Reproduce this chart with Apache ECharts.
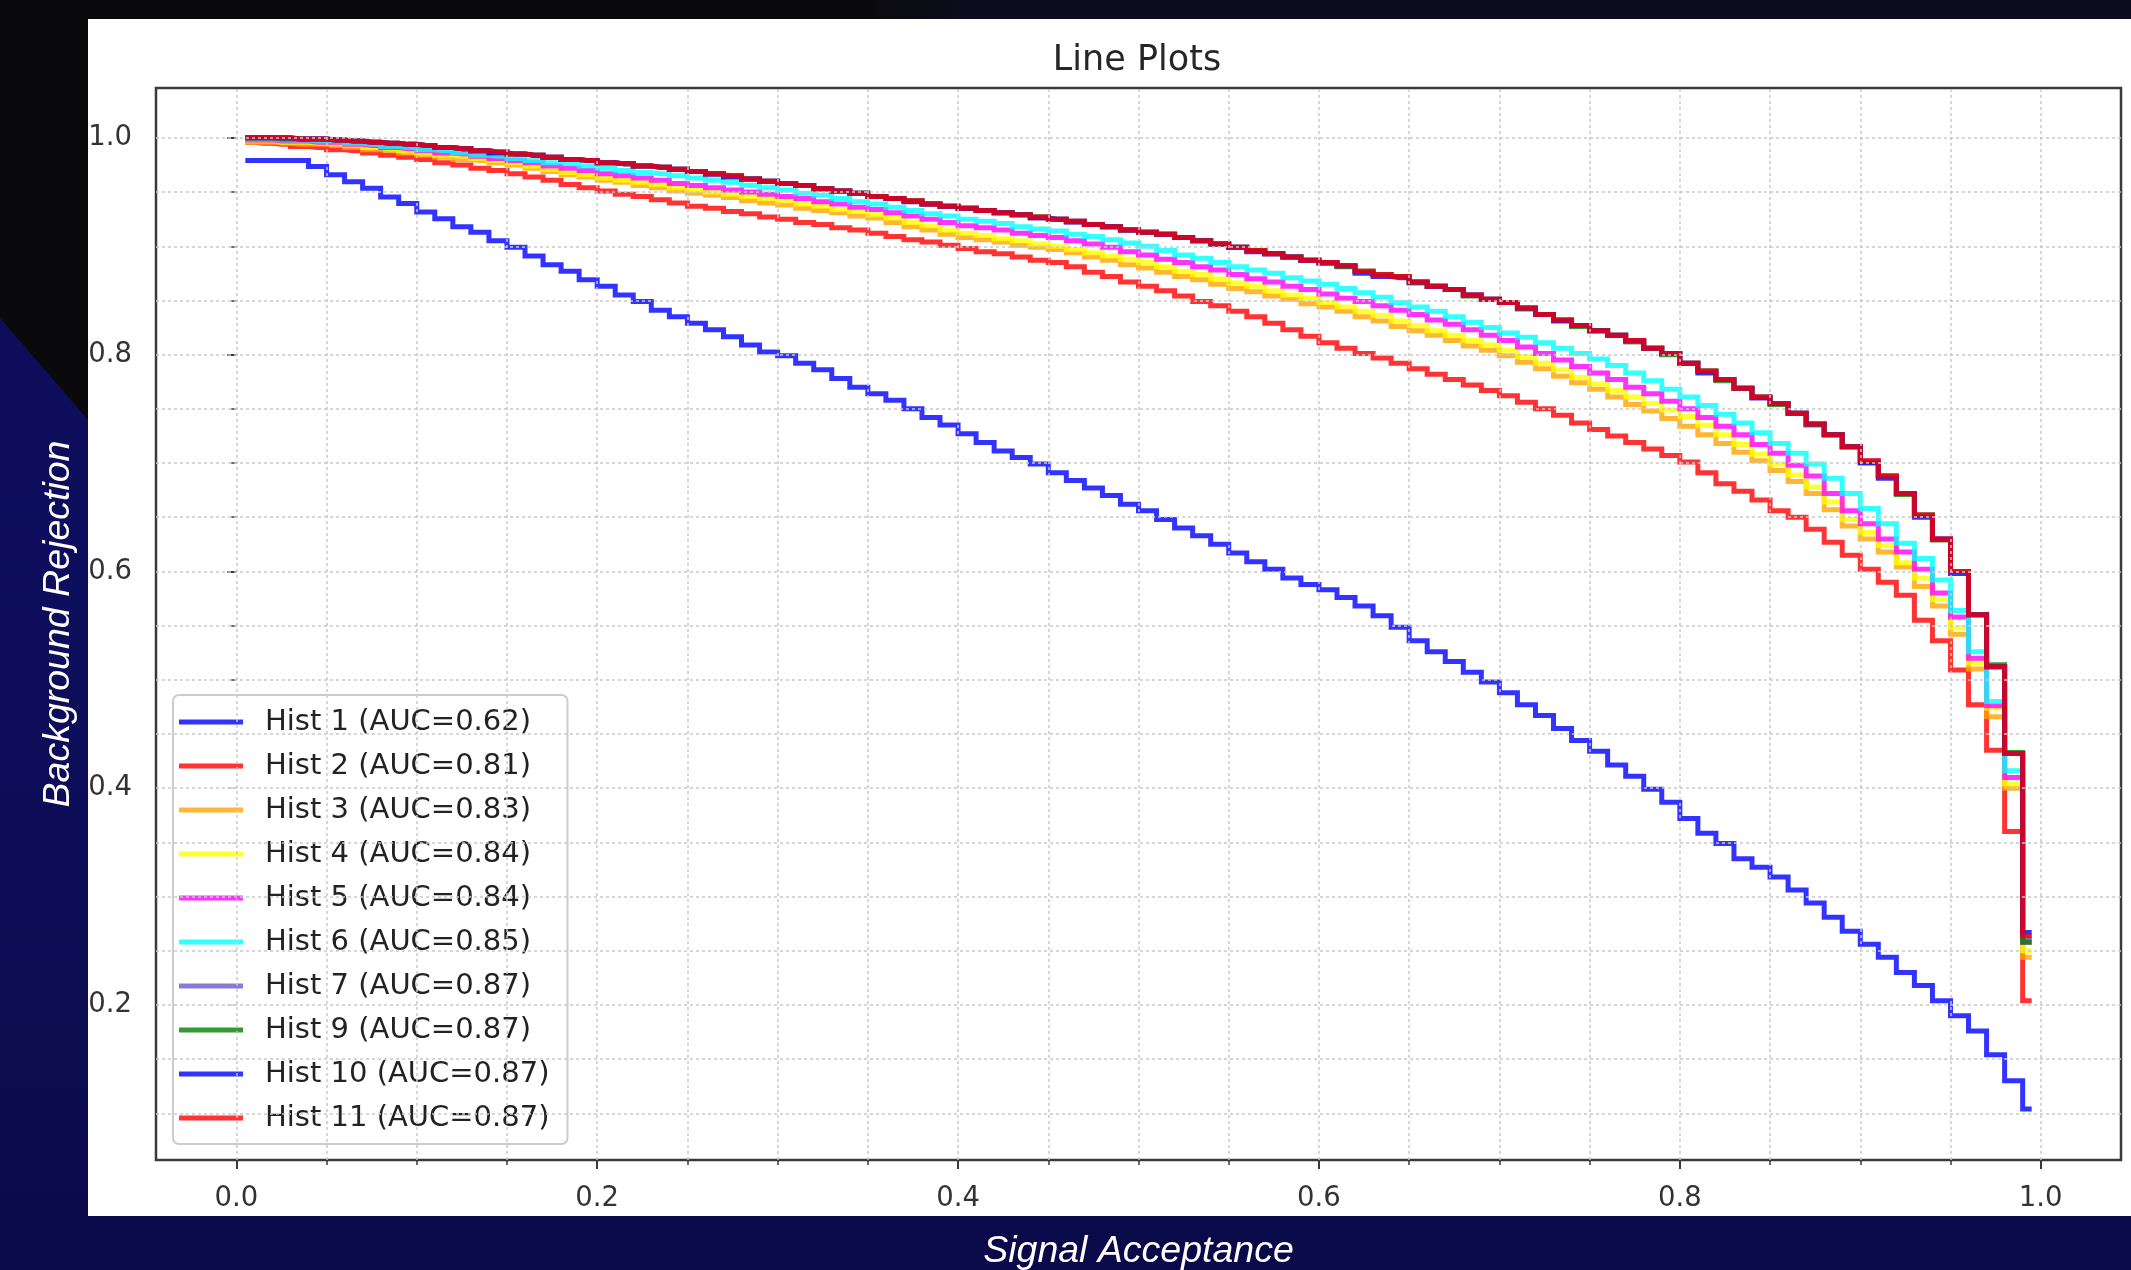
<!DOCTYPE html>
<html>
<head>
<meta charset="utf-8">
<script src="https://cdn.jsdelivr.net/npm/echarts/dist/echarts.min.js"></script>
<style>
html,body{margin:0;padding:0;width:2131px;height:1270px;overflow:hidden;background:linear-gradient(180deg,#0c0c56 0%,#0e0e5e 45%,#0a0a4a 100%);}
#bgTop{position:absolute;left:0;top:0;width:2131px;height:1270px;background:linear-gradient(90deg,#0a0a0c 0px,#0a0a0c 860px,#0c0c1c 960px,#0c0c1c 2131px);clip-path:polygon(0 0,2131px 0,2131px 19px,88px 19px,88px 420px,0 318px);}
#panel{position:absolute;left:88px;top:19px;width:2043px;height:1197px;background:#ffffff;}
#chart{position:absolute;left:0;top:0;width:2131px;height:1270px;}
</style>
</head>
<body>
<div id="bgTop"></div>
<div id="panel"></div>
<div id="chart"></div>
<script>
// ---------- data ----------
const X_CENTERS = [
 0.005,0.015,0.025,0.035,0.045,0.055,0.065,0.075,0.085,0.095,
 0.105,0.115,0.125,0.135,0.145,0.155,0.165,0.175,0.185,0.195,
 0.205,0.215,0.225,0.235,0.245,0.255,0.265,0.275,0.285,0.295,
 0.305,0.315,0.325,0.335,0.345,0.355,0.365,0.375,0.385,0.395,
 0.405,0.415,0.425,0.435,0.445,0.455,0.465,0.475,0.485,0.495,
 0.505,0.515,0.525,0.535,0.545,0.555,0.565,0.575,0.585,0.595,
 0.605,0.615,0.625,0.635,0.645,0.655,0.665,0.675,0.685,0.695,
 0.705,0.715,0.725,0.735,0.745,0.755,0.765,0.775,0.785,0.795,
 0.805,0.815,0.825,0.835,0.845,0.855,0.865,0.875,0.885,0.895,
 0.905,0.915,0.925,0.935,0.945,0.955,0.965,0.975,0.985,0.995];

const HIST_NAMES = ['Hist 1','Hist 2','Hist 3','Hist 4','Hist 5','Hist 6','Hist 7','Hist 9','Hist 10','Hist 11'];
const AUC = ['0.62','0.81','0.83','0.84','0.84','0.85','0.87','0.87','0.87','0.87'];
const COLORS = ['rgba(0,0,255,0.8)','rgba(255,0,0,0.8)','rgba(255,165,0,0.8)','rgba(255,255,0,0.8)',
  'rgba(255,0,255,0.8)','rgba(0,255,255,0.8)','rgba(106,90,205,0.8)','rgba(0,128,0,0.8)',
  'rgba(0,0,255,0.8)','rgba(255,0,0,0.8)'];

const HIST1 = [
 0.979,0.979,0.979,0.979,0.9735,0.966,0.9595,0.9534,0.9455,0.9394,
 0.9316,0.9254,0.918,0.913,0.905,0.899,0.891,0.883,0.877,0.869,
 0.863,0.855,0.849,0.841,0.835,0.829,0.823,0.8165,0.809,0.8025,
 0.799,0.792,0.786,0.778,0.770,0.764,0.758,0.750,0.742,0.735,
 0.727,0.719,0.711,0.705,0.699,0.691,0.684,0.677,0.670,0.662,
 0.656,0.648,0.640,0.633,0.625,0.617,0.609,0.602,0.594,0.588,
 0.583,0.576,0.568,0.559,0.5485,0.536,0.526,0.517,0.507,0.498,
 0.488,0.477,0.467,0.455,0.444,0.434,0.4215,0.411,0.399,0.387,
 0.372,0.3585,0.349,0.335,0.327,0.318,0.306,0.294,0.281,0.268,
 0.256,0.244,0.230,0.218,0.204,0.190,0.176,0.154,0.130,0.104];

const HIST2 = [
 0.996,0.995,0.994,0.992,0.991,0.989,0.988,0.986,0.984,0.982,
 0.980,0.977,0.975,0.972,0.970,0.967,0.964,0.961,0.957,0.954,
 0.951,0.948,0.946,0.943,0.940,0.937,0.935,0.932,0.930,0.927,
 0.925,0.922,0.920,0.917,0.915,0.912,0.909,0.906,0.904,0.901,
 0.898,0.895,0.893,0.890,0.887,0.885,0.881,0.876,0.872,0.867,
 0.863,0.859,0.854,0.849,0.845,0.840,0.835,0.829,0.823,0.817,
 0.811,0.806,0.801,0.797,0.792,0.787,0.782,0.777,0.772,0.767,
 0.762,0.756,0.750,0.744,0.737,0.731,0.725,0.719,0.713,0.707,
 0.701,0.691,0.681,0.674,0.666,0.656,0.650,0.639,0.627,0.615,
 0.602,0.590,0.578,0.555,0.536,0.509,0.477,0.435,0.360,0.204];

const HIST3 = [
 0.996,0.996,0.995,0.994,0.994,0.993,0.991,0.989,0.988,0.986,
 0.984,0.982,0.980,0.979,0.977,0.975,0.972,0.969,0.966,0.964,
 0.961,0.959,0.956,0.954,0.951,0.949,0.947,0.945,0.942,0.940,
 0.938,0.935,0.933,0.931,0.928,0.926,0.922,0.918,0.915,0.911,
 0.908,0.906,0.904,0.901,0.899,0.897,0.894,0.890,0.887,0.883,
 0.880,0.876,0.872,0.869,0.865,0.861,0.858,0.854,0.851,0.847,
 0.844,0.840,0.835,0.831,0.826,0.822,0.818,0.813,0.808,0.804,
 0.799,0.793,0.787,0.780,0.774,0.768,0.761,0.754,0.748,0.741,
 0.734,0.726,0.718,0.710,0.702,0.693,0.683,0.672,0.657,0.642,
 0.630,0.618,0.604,0.586,0.568,0.542,0.510,0.466,0.400,0.244];

const HIST4 = [
 0.997,0.997,0.996,0.996,0.995,0.995,0.993,0.991,0.990,0.988,
 0.986,0.984,0.983,0.981,0.979,0.977,0.974,0.971,0.968,0.966,
 0.963,0.961,0.959,0.957,0.954,0.952,0.950,0.948,0.946,0.944,
 0.942,0.939,0.937,0.934,0.932,0.929,0.926,0.922,0.919,0.915,
 0.912,0.910,0.907,0.905,0.902,0.900,0.897,0.894,0.891,0.888,
 0.885,0.881,0.877,0.874,0.870,0.866,0.863,0.859,0.855,0.852,
 0.848,0.844,0.840,0.836,0.831,0.827,0.822,0.818,0.813,0.809,
 0.804,0.798,0.792,0.786,0.779,0.773,0.767,0.761,0.755,0.749,
 0.743,0.735,0.726,0.717,0.708,0.699,0.689,0.678,0.664,0.648,
 0.636,0.624,0.608,0.594,0.574,0.548,0.516,0.474,0.404,0.250];

const HIST5 = [
 0.998,0.998,0.997,0.997,0.996,0.996,0.994,0.993,0.991,0.990,
 0.988,0.986,0.985,0.983,0.981,0.979,0.977,0.974,0.972,0.970,
 0.967,0.965,0.963,0.961,0.958,0.956,0.954,0.952,0.950,0.948,
 0.946,0.944,0.941,0.939,0.936,0.934,0.931,0.928,0.925,0.922,
 0.919,0.917,0.915,0.912,0.910,0.908,0.905,0.902,0.899,0.895,
 0.892,0.888,0.885,0.881,0.878,0.874,0.870,0.867,0.863,0.860,
 0.856,0.852,0.849,0.845,0.841,0.837,0.832,0.828,0.823,0.818,
 0.813,0.807,0.801,0.795,0.789,0.783,0.777,0.770,0.764,0.757,
 0.750,0.742,0.734,0.726,0.717,0.709,0.698,0.688,0.672,0.656,
 0.644,0.630,0.618,0.602,0.580,0.558,0.520,0.476,0.410,0.258];

const HIST6 = [
 0.999,0.999,0.998,0.998,0.997,0.997,0.995,0.994,0.992,0.991,
 0.989,0.988,0.986,0.984,0.983,0.981,0.979,0.977,0.976,0.974,
 0.972,0.970,0.968,0.967,0.965,0.963,0.961,0.959,0.956,0.954,
 0.952,0.949,0.947,0.944,0.941,0.939,0.936,0.933,0.930,0.928,
 0.925,0.923,0.921,0.918,0.916,0.914,0.911,0.909,0.906,0.903,
 0.900,0.896,0.892,0.889,0.885,0.881,0.878,0.875,0.871,0.868,
 0.865,0.861,0.857,0.853,0.848,0.844,0.840,0.835,0.830,0.825,
 0.820,0.816,0.811,0.806,0.801,0.796,0.790,0.783,0.776,0.768,
 0.761,0.753,0.745,0.737,0.728,0.718,0.709,0.699,0.686,0.672,
 0.658,0.644,0.626,0.612,0.592,0.564,0.526,0.480,0.416,0.262];

const HIST7 = [
 1.000,1.000,1.000,0.999,0.999,0.998,0.997,0.996,0.995,0.994,
 0.993,0.991,0.990,0.988,0.987,0.985,0.984,0.982,0.980,0.979,
 0.977,0.976,0.974,0.973,0.971,0.969,0.966,0.965,0.962,0.960,
 0.958,0.956,0.953,0.951,0.949,0.946,0.944,0.942,0.939,0.937,
 0.935,0.933,0.931,0.929,0.927,0.925,0.922,0.920,0.918,0.915,
 0.913,0.911,0.908,0.905,0.902,0.899,0.896,0.893,0.890,0.887,
 0.885,0.882,0.877,0.874,0.872,0.867,0.863,0.860,0.855,0.851,
 0.848,0.843,0.837,0.832,0.827,0.822,0.818,0.812,0.806,0.801,
 0.792,0.785,0.777,0.769,0.761,0.755,0.746,0.736,0.726,0.715,
 0.702,0.688,0.672,0.652,0.630,0.600,0.560,0.512,0.432,0.262];

const HIST9 = [
 1.000,1.000,0.999,0.999,0.999,0.998,0.997,0.996,0.995,0.994,
 0.993,0.991,0.990,0.988,0.987,0.985,0.984,0.982,0.980,0.979,
 0.977,0.976,0.974,0.973,0.971,0.969,0.967,0.965,0.962,0.960,
 0.958,0.956,0.953,0.951,0.949,0.946,0.944,0.942,0.939,0.937,
 0.935,0.933,0.931,0.929,0.927,0.925,0.923,0.920,0.918,0.915,
 0.913,0.911,0.908,0.905,0.902,0.899,0.896,0.893,0.890,0.887,
 0.884,0.881,0.877,0.874,0.872,0.866,0.863,0.860,0.854,0.851,
 0.848,0.842,0.837,0.832,0.826,0.822,0.818,0.812,0.806,0.800,
 0.792,0.785,0.776,0.769,0.761,0.754,0.746,0.735,0.726,0.715,
 0.701,0.688,0.671,0.652,0.629,0.600,0.560,0.514,0.433,0.258];

const HIST10 = [
 1.000,1.000,1.000,0.999,0.999,0.998,0.997,0.996,0.995,0.994,
 0.993,0.991,0.990,0.988,0.986,0.985,0.984,0.982,0.980,0.979,
 0.977,0.976,0.974,0.973,0.971,0.969,0.967,0.964,0.962,0.960,
 0.958,0.956,0.953,0.951,0.949,0.946,0.944,0.941,0.939,0.937,
 0.935,0.933,0.931,0.929,0.926,0.925,0.923,0.920,0.918,0.915,
 0.913,0.911,0.908,0.905,0.902,0.899,0.895,0.893,0.890,0.887,
 0.885,0.882,0.875,0.872,0.871,0.867,0.863,0.860,0.855,0.851,
 0.848,0.843,0.837,0.831,0.827,0.822,0.818,0.813,0.806,0.801,
 0.792,0.783,0.777,0.769,0.760,0.755,0.746,0.736,0.726,0.715,
 0.700,0.686,0.672,0.650,0.630,0.598,0.560,0.512,0.432,0.267];

const HIST11 = [
 1.000,1.000,1.000,0.999,0.999,0.998,0.997,0.996,0.995,0.994,
 0.993,0.991,0.990,0.988,0.987,0.985,0.984,0.982,0.980,0.979,
 0.977,0.976,0.974,0.973,0.971,0.969,0.967,0.965,0.962,0.960,
 0.958,0.956,0.953,0.951,0.949,0.946,0.944,0.942,0.939,0.937,
 0.935,0.933,0.931,0.929,0.927,0.925,0.923,0.920,0.918,0.915,
 0.913,0.911,0.908,0.905,0.902,0.899,0.896,0.893,0.890,0.887,
 0.885,0.882,0.877,0.874,0.872,0.867,0.863,0.860,0.855,0.851,
 0.848,0.843,0.837,0.832,0.827,0.822,0.818,0.813,0.806,0.801,
 0.792,0.785,0.777,0.769,0.761,0.755,0.746,0.736,0.726,0.715,
 0.702,0.688,0.672,0.652,0.630,0.600,0.560,0.512,0.432,0.264];

const X_MAJOR = [0.0,0.2,0.4,0.6,0.8,1.0];
const X_MINOR = [0.0,0.05,0.1,0.15,0.2,0.25,0.3,0.35,0.4,0.45,0.5,0.55,0.6,0.65,0.7,0.75,0.8,0.85,0.9,0.95,1.0];
const Y_MAJOR = [0.2,0.4,0.6,0.8,1.0];
const Y_MINOR = [0.1,0.15,0.2,0.25,0.3,0.35,0.4,0.45,0.5,0.55,0.6,0.65,0.7,0.75,0.8,0.85,0.9,0.95,1.0];

// ---------- chart ----------
const SERIES_VALUES = [HIST1,HIST2,HIST3,HIST4,HIST5,HIST6,HIST7,HIST9,HIST10,HIST11];
const LEGEND_NAMES = HIST_NAMES.map((n,k)=>n+' (AUC='+AUC[k]+')');
const X_EXT = [-0.0445, 1.0445];
const Y_EXT = [0.057, 1.046];
const TICK_COLOR = '#3a3a3a';
const LABEL_FONT = 'DejaVu Sans';

const chart = echarts.init(document.getElementById('chart'), null, {renderer:'canvas'});

const series = [{
  type:'line', name:'_grid', data:[[-1,-1]], symbol:'none', showSymbol:false,
  lineStyle:{width:0, opacity:0}, silent:true, z:1, animation:false,
  markLine:{
    silent:true, symbol:'none', animation:false, precision:4,
    label:{show:false},
    lineStyle:{type:[3,3], color:'#c9c9c9', width:1.5},
    emphasis:{disabled:true},
    data: X_MINOR.map(v=>({xAxis:v})).concat(Y_MINOR.map(v=>({yAxis:v})))
  }
}];
SERIES_VALUES.forEach((ys,k)=>{
  series.push({
    name: LEGEND_NAMES[k], type:'line', step:'middle', symbol:'none', showSymbol:false,
    data: X_CENTERS.map((x,i)=>[x, ys[i]]),
    color: COLORS[k],
    itemStyle:{color: COLORS[k]},
    lineStyle:{width:5, color: COLORS[k], join:'miter', cap:'butt'},
    emphasis:{disabled:true}, silent:true, z:2, animation:false
  });
});

const option = {
  animation:false,
  title:{
    text:'Line Plots', left:1132, top:38, textAlign:'center',
    textStyle:{fontFamily:LABEL_FONT, fontSize:35, fontWeight:'normal', color:'#262626'}
  },
  grid:{show:true, left:156, right:10, top:88, bottom:110, borderColor:'#3a3a3a', borderWidth:2.5,
    backgroundColor:'transparent', containLabel:false, outerBoundsMode:'none'},
  legend:{
    data: LEGEND_NAMES, orient:'vertical', left:173, top:695,
    icon:'rect', itemWidth:64, itemHeight:5, itemGap:14,
    padding:[12,18,11,6],
    backgroundColor:'rgba(255,255,255,0.8)', borderColor:'#cccccc', borderWidth:2, borderRadius:6,
    selectedMode:false,
    textStyle:{fontFamily:LABEL_FONT, fontSize:29, color:'#222222', lineHeight:30, padding:[0,0,0,17]}
  },
  xAxis:[{
    type:'value', min:X_EXT[0], max:X_EXT[1], position:'bottom',
    name:'Signal Acceptance', nameLocation:'middle', nameGap:73,
    nameTextStyle:{color:'#ffffff', fontStyle:'italic', fontSize:37.5, fontFamily:'Liberation Sans'},
    axisLine:{show:false}, splitLine:{show:false},
    axisTick:{show:true, customValues:X_MAJOR, length:9, lineStyle:{color:TICK_COLOR, width:2}},
    axisLabel:{show:true, customValues:X_MAJOR, formatter:v=>Number(v).toFixed(1), fontSize:27.5, color:'#333333', margin:25, fontFamily:LABEL_FONT}
  },{
    type:'value', min:X_EXT[0], max:X_EXT[1], position:'bottom',
    axisLine:{show:false}, splitLine:{show:false},
    axisTick:{show:true, customValues:X_MINOR, length:5, lineStyle:{color:TICK_COLOR, width:1.5}},
    axisLabel:{show:false}
  }],
  yAxis:[{
    type:'value', min:Y_EXT[0], max:Y_EXT[1], position:'left',
    name:'Background Rejection', nameLocation:'middle', nameGap:78,
    nameTextStyle:{color:'#ffffff', fontStyle:'italic', fontSize:37.5, fontFamily:'Liberation Sans'},
    axisLine:{show:false}, splitLine:{show:false},
    axisTick:{show:true, customValues:Y_MAJOR, length:9, lineStyle:{color:TICK_COLOR, width:2}},
    axisLabel:{show:true, customValues:Y_MAJOR, formatter:v=>Number(v).toFixed(1), fontSize:27.5, color:'#333333', margin:24, fontFamily:LABEL_FONT}
  },{
    type:'value', min:Y_EXT[0], max:Y_EXT[1], position:'left',
    axisLine:{show:false}, splitLine:{show:false},
    axisTick:{show:true, customValues:Y_MINOR, length:5, lineStyle:{color:TICK_COLOR, width:1.5}},
    axisLabel:{show:false}
  }],
  series: series
};
chart.setOption(option);
</script>
</body>
</html>
